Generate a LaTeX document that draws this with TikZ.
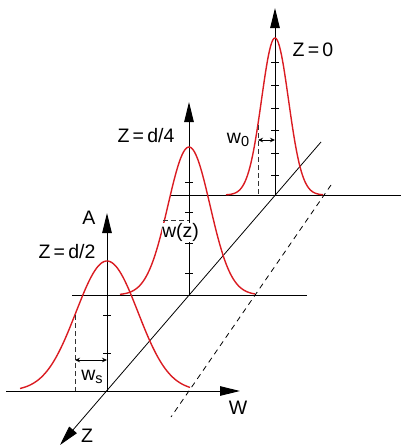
\documentclass[tikz,border=0pt]{standalone}
\usepackage{fontspec}
\setmainfont{Liberation Sans}
\usetikzlibrary{arrows.meta}
\definecolor{beamred}{RGB}{218,28,34}
\tikzset{
  axisline/.style={line width=1pt, black},
  bigarrow/.style={-{Triangle[length=20pt,width=9.5pt]}},
  thinline/.style={line width=0.8pt, black},
  dashline/.style={line width=0.8pt, black, dash pattern=on 5.5pt off 4.5pt},
  shortdash/.style={line width=1pt, black!80, dash pattern=on 5pt off 3pt},
  beam/.style={line width=1.4pt, beamred},
  ticks/.style={line width=0.9pt, black},
  lbl/.style={font=\fontsize{19.5}{22}\selectfont, inner sep=0pt},
  smallarrow/.style={line width=0.8pt, {Stealth[length=5pt,width=4.5pt]}-{Stealth[length=5pt,width=4.5pt]}}
}
\begin{document}
\begin{tikzpicture}[x=1pt,y=-1pt]
\useasboundingbox (0,0) rectangle (401,447);
% coordinates
\coordinate (o0) at (275,195);
\coordinate (o1) at (189,295);
\coordinate (o2) at (107,391);
\coordinate (t0) at (275,8);
\coordinate (t1) at (189,102);
\coordinate (t2) at (107,213);
\coordinate (b0l) at (170,195);
\coordinate (b0r) at (401,195);
\coordinate (b1l) at (72,295);
\coordinate (b1r) at (307,295);
\coordinate (b2l) at (6,391);
\coordinate (b2r) at (240,391);
\coordinate (zt) at (321,142);
\coordinate (zb) at (60,445);
\coordinate (dt) at (331,185);
\coordinate (db) at (171,417);
% baselines
\draw[axisline] (b0l) -- (b0r);
\draw[axisline] (b1l) -- (b1r);
\draw[axisline, bigarrow] (b2l) -- (b2r);
% Z axis and dashed diagonal
\draw[thinline, -{Triangle[length=20pt,width=10pt]}] (zt) -- (zb);
\draw[dashline] (dt) -- (db);
% vertical axes
\draw[axisline, bigarrow] (o0) -- (t0);
\draw[axisline, bigarrow] (o1) -- (t1);
\draw[axisline, bigarrow] (o2) -- (t2);
% ticks
\foreach \y in {175,153,130,108,85,62} \draw[ticks] (271,\y) -- (279,\y);
\foreach \y in {273,243,212,182} \draw[ticks] (185,\y) -- (193,\y);
\foreach \y in {353,315} \draw[ticks] (103,\y) -- (111,\y);
% beams
\draw[beam] plot[domain=-49:48, samples=90, smooth] ({275+\x},{195-157*exp(-\x*\x/364.5)});
\draw[beam] plot[domain=-69:66, samples=90, smooth] ({189+\x},{295-148*exp(-\x*\x/882)});
\draw[beam] plot[domain=-87:83, samples=90, smooth] ({107+\x},{391-130*exp(-\x*\x/1922)});
% widths
\coordinate (w0t) at (258,125);
\coordinate (w0b) at (258,195);
\draw[shortdash] (w0t) -- (w0b);
\coordinate (w0a) at (258,140);
\coordinate (w0c) at (275,140);
\draw[smallarrow] (w0a) -- (w0c);
\coordinate (wzl) at (163,220);
\coordinate (wzr) at (189,220);
\draw[shortdash] (wzl) -- (wzr);
\coordinate (wst) at (75,315);
\coordinate (wsb) at (75,391);
\draw[shortdash] (wst) -- (wsb);
\coordinate (wsa) at (75,360);
\coordinate (wsc) at (107,360);
\draw[smallarrow] (wsa) -- (wsc);
% labels
\node[lbl] (l0) at (313,50) {Z\,=\,0};
\node[lbl] (l1) at (146,136) {Z\,=\,d/4};
\node[lbl] (l2) at (67,252) {Z\,=\,d/2};
\node[lbl] (la) at (89,218) {A};
\node[lbl] (lw0) at (238,140) {w\raisebox{-0.35ex}{\fontsize{14.5}{16}\selectfont 0}};
\node[lbl, fill=white, inner sep=0.5pt] (lwz) at (180.5,232.5) {w(z)};
\node[lbl] (lws) at (92,377) {w\raisebox{-0.35ex}{\fontsize{14.5}{16}\selectfont s}};
\node[lbl] (lW) at (238,408) {W};
\node[lbl] (lZ) at (87,435.5) {Z};
\end{tikzpicture}
\end{document}
